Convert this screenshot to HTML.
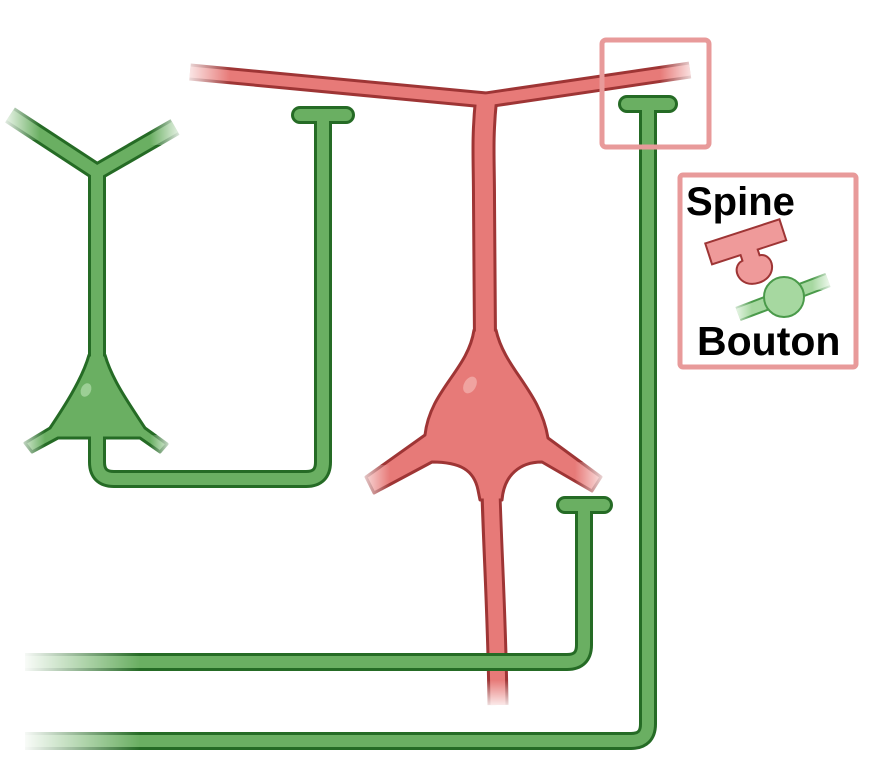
<!DOCTYPE html>
<html><head><meta charset="utf-8"><style>
html,body{margin:0;padding:0;background:#fff}
svg{display:block}
</style></head><body>
<svg width="873" height="768" viewBox="0 0 873 768" xmlns="http://www.w3.org/2000/svg">
<defs>
<linearGradient id="fl" x1="0" x2="1" y1="0" y2="0"><stop offset="0" stop-color="#fff" stop-opacity="1"/><stop offset="1" stop-color="#fff" stop-opacity="0"/></linearGradient>
<linearGradient id="fr" x1="1" x2="0" y1="0" y2="0"><stop offset="0" stop-color="#fff" stop-opacity="1"/><stop offset="1" stop-color="#fff" stop-opacity="0"/></linearGradient>
<linearGradient id="fd" x1="0" x2="0" y1="1" y2="0"><stop offset="0" stop-color="#fff" stop-opacity="1"/><stop offset="1" stop-color="#fff" stop-opacity="0"/></linearGradient>
</defs>

<!-- RED NEURON -->
<g fill="none" stroke-linecap="butt" stroke-linejoin="round">
<g stroke="#9e3535">
<path d="M190 72 L486 100 L690 70" stroke-width="17"/>
<path d="M486 100 C482 140 484 160 484 200 L485 340" stroke-width="24"/>
<path d="M491 495 C493 560 497 620 498 705" stroke-width="21"/>
</g>
<path d="M474 330 C468 370 430 390 425 435 L366 477 L374 493 L432 462 C460 462 474 470 478 490 L480 500 L502 500 C504 475 520 462 542 462 L592 491 L601 477 L548 438 C540 390 505 370 496 330 Z" fill="#e77a78" stroke="#9e3535" stroke-width="3"/>
<g stroke="#e77a78">
<path d="M190 72 L486 100 L690 70" stroke-width="11"/>
<path d="M486 100 C482 140 484 160 484 200 L485 345" stroke-width="18"/>
<path d="M491 490 C493 560 497 620 498 705" stroke-width="15"/>
</g>
</g>
<ellipse cx="470" cy="385" rx="6" ry="9" fill="#f0a3a0" transform="rotate(30 470 385)"/>
<rect x="180" y="55" width="50" height="35" fill="url(#fl)"/>
<rect x="660" y="55" width="40" height="30" fill="url(#fr)"/>
<rect x="355" y="465" width="35" height="40" fill="url(#fl)"/>
<rect x="575" y="462" width="35" height="35" fill="url(#fr)"/>
<rect x="480" y="680" width="30" height="30" fill="url(#fd)"/>

<!-- GREEN -->
<g fill="none" stroke-linecap="round" stroke-linejoin="round">
<g stroke="#256b25" stroke-width="18">
<path d="M10 115 L97 172 L175 127" stroke-linecap="butt"/>
<path d="M97 172 L97 360"/>
<path d="M97 430 L97 462 Q97 479 114 479 L306 479 Q323 479 323 462 L323 115"/>
<path d="M300 115 L346 115"/>
<path d="M25 662 L567 662 Q584 662 584 645 L584 505" stroke-linecap="butt"/>
<path d="M565 505 L604 505"/>
<path d="M25 741 L631 741 Q648 741 648 724 L648 104" stroke-linecap="butt"/>
<path d="M627 104 L669 104"/>
</g>
<path d="M89 355 C82 380 62 410 50 428 L25 443 L32 452 L58 438 L140 438 L160 452 L167 444 L145 428 C130 405 112 380 105 355 Z" fill="#6aaf62" stroke="#256b25" stroke-width="3"/>
<g stroke="#6aaf62" stroke-width="12">
<path d="M10 115 L97 172 L175 127" stroke-linecap="butt"/>
<path d="M97 172 L97 365"/>
<path d="M97 436 L97 462 Q97 479 114 479 L306 479 Q323 479 323 462 L323 115"/>
<path d="M300 115 L346 115"/>
<path d="M25 662 L567 662 Q584 662 584 645 L584 505" stroke-linecap="butt"/>
<path d="M565 505 L604 505"/>
<path d="M25 741 L631 741 Q648 741 648 724 L648 104" stroke-linecap="butt"/>
<path d="M627 104 L669 104"/>
</g>
</g>
<ellipse cx="86" cy="390" rx="5" ry="7" fill="#9ccf95" transform="rotate(25 86 390)"/>
<rect x="0" y="100" width="40" height="40" fill="url(#fl)"/>
<rect x="150" y="110" width="35" height="35" fill="url(#fr)"/>
<rect x="15" y="430" width="30" height="30" fill="url(#fl)"/>
<rect x="150" y="435" width="25" height="30" fill="url(#fr)"/>
<rect x="20" y="645" width="120" height="35" fill="url(#fl)"/>
<rect x="20" y="724" width="120" height="35" fill="url(#fl)"/>

<!-- BOXES -->
<rect x="602" y="40" width="107" height="107" rx="4" fill="none" stroke="#e89a9a" stroke-width="5"/>
<rect x="680" y="175" width="176" height="192" rx="3" fill="none" stroke="#e89a9a" stroke-width="5"/>

<!-- spine icon -->
<g transform="rotate(-18 751 258)">
<path d="M712 230 L790 230 L790 252 L760 252 L760 258 C774 260 772 284 751 284 C730 284 728 260 742 258 L742 252 L712 252 Z" fill="#ef9a9a" stroke="#9e3535" stroke-width="2"/>
</g>
<g>
<path d="M738 314 L828 280" stroke="#4a9a4a" stroke-width="15" fill="none"/>
<path d="M738 314 L828 280" stroke="#a6d8a0" stroke-width="11" fill="none"/>
<circle cx="784" cy="297" r="20" fill="#a6d8a0" stroke="#4a9a4a" stroke-width="2"/>
</g>
<rect x="730" y="300" width="22" height="22" fill="url(#fl)"/>
<rect x="812" y="268" width="22" height="22" fill="url(#fr)"/>

<text x="686" y="215" font-family="Liberation Sans, sans-serif" font-weight="bold" font-size="40" fill="#000">Spine</text>
<text x="697" y="355" font-family="Liberation Sans, sans-serif" font-weight="bold" font-size="41" fill="#000">Bouton</text>
</svg>
</body></html>
